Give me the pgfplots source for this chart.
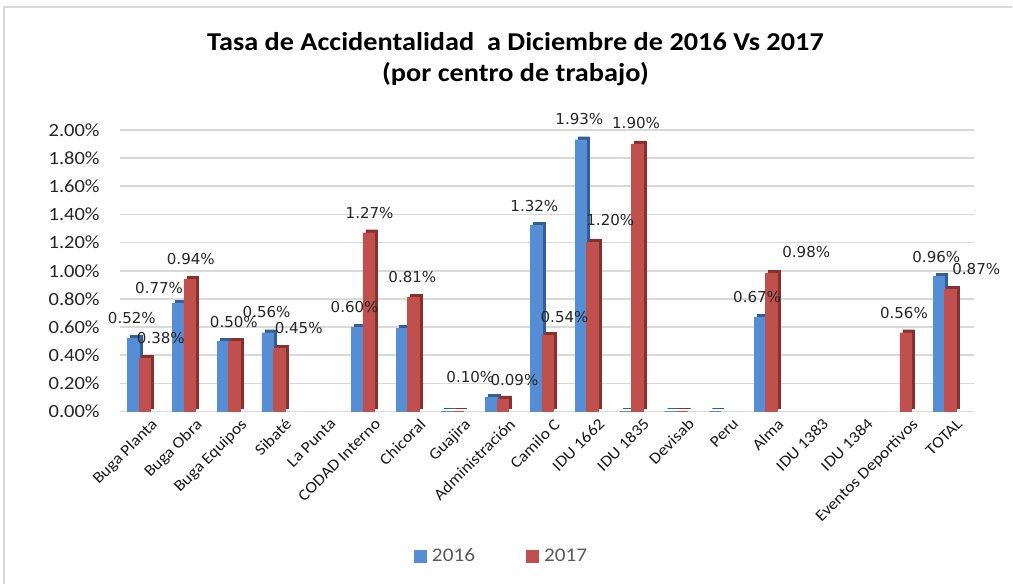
\documentclass[border=0pt]{standalone}
\usepackage{fontspec}
\setmainfont{Carlito}[FakeStretch=1.1]
\newfontfamily\labfont{DejaVu Sans}
\usepackage{pgfplots}
\pgfplotsset{compat=1.18}
\usepackage{pgfplotstable}
\definecolor{c16}{RGB}{85,142,213}
\definecolor{c17}{RGB}{192,80,77}
\definecolor{c16d}{RGB}{52,94,150}
\definecolor{c17d}{RGB}{135,48,46}
\definecolor{gridc}{RGB}{217,217,217}
\definecolor{legtxt}{RGB}{89,89,89}

\pgfplotstableread{
x y
0 0.52
1 0.77
2 0.50
3 0.56
5 0.60
6 0.59
7 0
8 0.10
9 1.32
10 1.93
11 0
12 0
13 0
14 0.67
18 0.96
}\dataA
\pgfplotstableread{
x y
0 0.38
1 0.94
2 0.50
3 0.45
5 1.27
6 0.81
7 0
8 0.09
9 0.54
10 1.20
11 1.90
12 0
14 0.98
17 0.56
18 0.87
}\dataB
\pgfplotstableread{
x y dx dy
0 0.52 -1.5 20.7
1 0.77 -19 15.4
2 0.50 11 19.5
3 0.56 -1 21
5 0.60 -2.5 20.4
8 0.10 -21 21
9 1.32 -1.7 20
10 1.93 -1.5 21
14 0.67 -2.7 20.5
18 0.96 -2.5 19.6
}\labA
\pgfplotstableread{
x y dx dy
0 0.38 16 20.4
1 0.94 1.2 20.5
3 0.45 19.6 20.5
5 1.27 1 20
6 0.81 -1 20.8
8 0.09 11.6 19.3
9 0.54 17 19
10 1.20 18 23
11 1.90 -1 21
14 0.98 35 22
17 0.56 -1.6 20
18 0.87 26 20.3
}\labB

\begin{document}
\begin{tikzpicture}
\path (0,0) rectangle (759.75pt,438.75pt);
\draw[gridc, line width=1.5pt] (3pt,0) -- (3pt,433.5pt) -- (759.75pt,433.5pt);
\node[font=\fontsize{19.3}{23.5}\selectfont\bfseries, align=center, text=black] at (387pt,394.5pt)
  {Tasa de Accidentalidad\ \ a Diciembre de 2016 Vs 2017\\(por centro de trabajo)};
\begin{axis}[
  at={(90pt,129.75pt)}, anchor=south west,
  scale only axis, width=641.25pt, height=211.5pt,
  ybar, bar width=8.6pt,
  xmin=-0.469, xmax=18.62, ymin=0, ymax=2,
  xtick={0,...,18},
  xticklabels={Buga Planta, Buga Obra, Buga Equipos, Sibaté, La Punta, CODAD Interno, Chicoral, Guajira, Administración, Camilo C, IDU 1662, IDU 1835, Devisab, Peru, Alma, IDU 1383, IDU 1384, Eventos Deportivos, TOTAL},
  xticklabel style={rotate=45, anchor=north east, inner sep=0pt, font=\fontsize{12}{14}\selectfont, text=black!90, xshift=2pt, yshift=-8pt},
  ytick={0,0.2,0.4,0.6,0.8,1.0,1.2,1.4,1.6,1.8,2.0},
  yticklabel={\pgfmathprintnumber[fixed,fixed zerofill,precision=2]{\tick}\%},
  /pgf/number format/assume math mode=true,
  yticklabel style={font=\fontsize{14}{16}\selectfont, text=black!85, inner sep=0pt, xshift=-15pt},
  axis line style={draw=none},
  major tick length=0pt,
  ymajorgrids, grid style={gridc, line width=1.2pt},
  clip=false,
  legend columns=2,
  legend style={at={(0.447,-0.514)}, anchor=center, draw=none, fill=none,
    font=\fontsize{14.5}{17}\selectfont, text=legtxt,
    /tikz/every even column/.append style={column sep=36pt}},
  legend image code/.code={\fill[#1] (0pt,-4.5pt) rectangle (9.5pt,5pt);},
]
\addplot[bar shift=-3.375pt, yshift=2.25pt, fill=c16d, draw=c16d, line width=0.3pt, forget plot] table[x=x,y=y] {\dataA};
\addplot[bar shift=-5.625pt, fill=c16, draw=c16, line width=0.3pt] table[x=x,y=y] {\dataA};
\addlegendentry{\hspace{2pt}2016}
\addplot[bar shift=5.25pt, yshift=2.25pt, fill=c17d, draw=c17d, line width=0.3pt, forget plot] table[x=x,y=y] {\dataB};
\addplot[bar shift=3pt, fill=c17, draw=c17, line width=0.3pt] table[x=x,y=y] {\dataB};
\addlegendentry{\hspace{2pt}2017}
\addplot[bar shift=-5.625pt, draw=none, fill=none, forget plot, point meta=y,
  visualization depends on={\thisrow{dx} \as \dx},
  visualization depends on={\thisrow{dy} \as \dy},
  nodes near coords={\pgfmathprintnumber[fixed,fixed zerofill,precision=2]{\pgfplotspointmeta}\%},
  nodes near coords style={anchor=center, font=\labfont\fontsize{11.3}{13}\selectfont, text=black!85, xshift=\dx*0.75pt, yshift=\dy*0.75pt, /pgf/number format/assume math mode=true}]
  table[x=x,y=y] {\labA};
\addplot[bar shift=3pt, draw=none, fill=none, forget plot, point meta=y,
  visualization depends on={\thisrow{dx} \as \dx},
  visualization depends on={\thisrow{dy} \as \dy},
  nodes near coords={\pgfmathprintnumber[fixed,fixed zerofill,precision=2]{\pgfplotspointmeta}\%},
  nodes near coords style={anchor=center, font=\labfont\fontsize{11.3}{13}\selectfont, text=black!85, xshift=\dx*0.75pt, yshift=\dy*0.75pt, /pgf/number format/assume math mode=true}]
  table[x=x,y=y] {\labB};
\end{axis}
\end{tikzpicture}
\end{document}
